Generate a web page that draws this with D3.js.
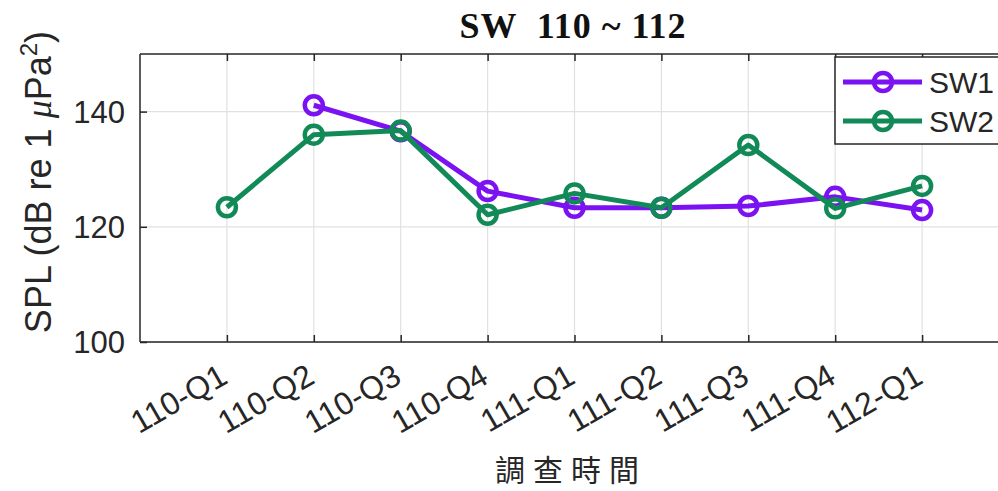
<!DOCTYPE html>
<html><head><meta charset="utf-8">
<script src="https://cdn.jsdelivr.net/npm/d3@7/dist/d3.min.js"></script>
<style>body{margin:0;background:#fff;}svg{display:block;}</style>
</head><body>
<svg id="chart" width="998" height="491"></svg>
<script>
const categories = ["110-Q1","110-Q2","110-Q3","110-Q4","111-Q1","111-Q2","111-Q3","111-Q4","112-Q1"];
const sw1 = [null, 141.1, 136.6, 126.2, 123.3, 123.3, 123.6, 125.2, 122.9];
const sw2 = [123.4, 136.0, 136.7, 122.1, 125.8, 123.3, 134.2, 123.2, 127.1];
const seriesNames = ["SW1","SW2"];
const colors = ["#7B12F2","#118A58"];
const yTicks = [100,120,140];

const svg = d3.select("#chart");
const m = {l:140, t:54, r:1009, b:342};
const x = d3.scaleLinear().domain([0,10]).range([m.l, m.r]);
const y = d3.scaleLinear().domain([100,150]).range([m.b, m.t]);
const xs = categories.map((c,i)=>i+1);

// grid
const g = svg.append("g");
g.selectAll(".vg").data(xs).join("line")
  .attr("x1",d=>x(d)).attr("x2",d=>x(d)).attr("y1",m.t).attr("y2",m.b)
  .attr("stroke","#e1e1e1").attr("stroke-width",1.2);
g.selectAll(".hg").data(yTicks).join("line")
  .attr("x1",m.l).attr("x2",m.r).attr("y1",d=>y(d)).attr("y2",d=>y(d))
  .attr("stroke","#e1e1e1").attr("stroke-width",1.2);

// axes
const xAxisB = d3.axisBottom(x).tickValues(xs).tickSize(-7).tickFormat((d,i)=>categories[i]);
const xAxisT = d3.axisTop(x).tickValues(xs).tickSize(-7).tickFormat("");
const yAxisL = d3.axisLeft(y).tickValues(yTicks).tickSize(-7).tickFormat(d3.format("d"));

const gb = svg.append("g").attr("transform",`translate(0,${m.b})`).call(xAxisB);
gb.select(".domain").remove();
gb.selectAll(".tick line").attr("stroke","#262626").attr("stroke-width",1.5);
gb.selectAll(".tick text")
  .attr("font-family","Liberation Sans, Arial, sans-serif").attr("font-size",32).attr("fill","#262626")
  .attr("text-anchor","end").attr("dy",0).attr("y",0)
  .attr("transform","translate(2,40) rotate(-30)");

const gt = svg.append("g").attr("transform",`translate(0,${m.t})`).call(xAxisT);
gt.select(".domain").remove();
gt.selectAll(".tick line").attr("stroke","#262626").attr("stroke-width",1.5);

const gl = svg.append("g").attr("transform",`translate(${m.l},0)`).call(yAxisL);
gl.select(".domain").remove();
gl.selectAll(".tick line").attr("stroke","#262626").attr("stroke-width",1.5);
gl.selectAll(".tick text").attr("font-family","Liberation Sans, Arial, sans-serif")
  .attr("font-size",31).attr("fill","#262626").attr("x",-15).attr("dy","0.35em");

// frame
svg.append("line").attr("x1",m.l).attr("x2",998).attr("y1",m.t).attr("y2",m.t).attr("stroke","#262626").attr("stroke-width",1.5);
svg.append("line").attr("x1",m.l).attr("x2",998).attr("y1",m.b).attr("y2",m.b).attr("stroke","#262626").attr("stroke-width",1.5);
svg.append("line").attr("x1",m.l).attr("x2",m.l).attr("y1",m.t).attr("y2",m.b).attr("stroke","#262626").attr("stroke-width",1.5);

// series
const data = [sw1, sw2];
const line = d3.line().defined(d=>d.v!=null).x(d=>x(d.x)).y(d=>y(d.v));
data.forEach((s,k)=>{
  const pts = s.map((v,i)=>({x:xs[i], v}));
  const gs = svg.append("g");
  gs.append("path").datum(pts).attr("d",line).attr("fill","none")
    .attr("stroke",colors[k]).attr("stroke-width",5).attr("stroke-linejoin","round");
  gs.selectAll("circle").data(pts.filter(d=>d.v!=null)).join("circle")
    .attr("cx",d=>x(d.x)).attr("cy",d=>y(d.v)).attr("r",9)
    .attr("fill","none").attr("stroke",colors[k]).attr("stroke-width",4.5);
});

// legend
const lg = svg.append("g");
lg.append("rect").attr("x",835).attr("y",57).attr("width",170).attr("height",87)
  .attr("fill","#fff").attr("stroke","#262626").attr("stroke-width",1.5);
seriesNames.forEach((n,k)=>{
  const yy = 82 + k*39;
  lg.append("line").attr("x1",843).attr("x2",922).attr("y1",yy).attr("y2",yy)
    .attr("stroke",colors[k]).attr("stroke-width",5);
  lg.append("circle").attr("cx",883).attr("cy",yy).attr("r",9).attr("fill","none")
    .attr("stroke",colors[k]).attr("stroke-width",4.5);
  lg.append("text").attr("x",929).attr("y",yy).attr("dy","0.36em")
    .attr("font-family","Liberation Sans, Arial, sans-serif").attr("font-size",30)
    .attr("fill","#262626").text(n);
});

// title
svg.append("text").attr("x",573).attr("y",38).attr("text-anchor","middle")
  .attr("font-family","Liberation Serif, Times New Roman, serif").attr("font-weight","bold")
  .attr("font-size",36).attr("letter-spacing",1).attr("fill","#111")
  .attr("xml:space","preserve").text("SW  110 ~ 112");

// y label
const yl = svg.append("text").attr("transform","translate(51,182) rotate(-90)")
  .attr("text-anchor","middle").attr("font-family","Liberation Sans, Arial, sans-serif")
  .attr("font-size",36).attr("fill","#262626");
yl.append("tspan").text("SPL (dB re 1 ");
yl.append("tspan").attr("font-style","italic").attr("font-family","Liberation Serif, serif").text("μ");
yl.append("tspan").text("Pa");
yl.append("tspan").attr("font-size",24).attr("dy",-14).text("2");
yl.append("tspan").attr("dy",14).text(")");

// x label
svg.append("text").attr("x",571).attr("y",481).attr("text-anchor","middle")
  .attr("font-family","Noto Sans CJK TC, sans-serif").attr("font-size",30)
  .attr("letter-spacing",8).attr("fill","#262626").text("調查時間");
</script>
</body></html>
